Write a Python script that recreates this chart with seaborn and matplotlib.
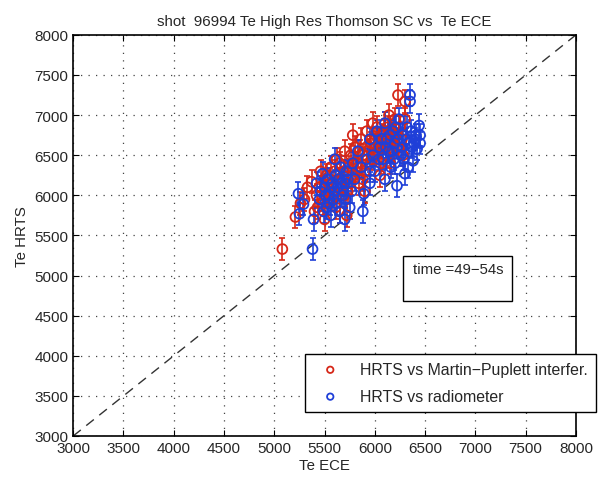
'''HRTS vs ECE electron temperature comparison'''

import matplotlib
matplotlib.use('Agg')
import matplotlib.pyplot as plt
from matplotlib.patches import Rectangle
import seaborn as sns

# Te ECE (x) and Te HRTS (y) for HRTS vs Martin-Puplett interferometer
mp_ece = [5080, 5210, 5260, 5300, 5370, 5400, 5420, 5450, 5480, 5500,
          5520, 5550, 5570, 5600, 5620, 5650, 5680, 5700, 5720, 5740,
          5760, 5780, 5800, 5820, 5840, 5860, 5880, 5900, 5920, 5950,
          5970, 6000, 6020, 6040, 6060, 6080, 6100, 6120, 6140, 6160,
          6180, 6200, 6230, 6250, 6270, 6300, 6300, 5560, 5330, 5650,
          5460, 5900, 6050, 5780, 6150, 5980, 5700, 6280,
          5430, 5530, 5580, 5610, 5660, 5690, 5730, 5760, 5790, 5810,
          5850, 5870, 5930, 5960, 5990, 6010, 6030, 6070, 6090, 6110,
          6130, 6170, 6190, 6210, 5880, 5620, 5520, 6240]
mp_hrts = [5330, 5730, 5900, 5950, 6170, 5800, 6000, 6100, 5900, 5700,
           6050, 6200, 5950, 6300, 6100, 6400, 6200, 6000, 5750, 6350,
           6500, 6250, 6600, 6400, 6150, 6700, 6500, 6300, 6800, 6600,
           6450, 6700, 6850, 6550, 6400, 6750, 6900, 6650, 7000, 6800,
           6550, 6950, 7250, 6850, 6700, 7170, 6950, 6350, 6100, 5800,
           6300, 6050, 6250, 6750, 6400, 6900, 6550, 6500,
           5850, 5900, 6050, 5850, 6100, 6300, 6050, 6150, 6400, 6300,
           6550, 6350, 6550, 6650, 6500, 6600, 6700, 6600, 6800, 6500,
           6850, 6700, 6850, 6750, 6200, 6450, 6250, 6600]

# Te ECE (x) and Te HRTS (y) for HRTS vs radiometer
rad_ece = [5240, 5250, 5290, 5380, 5390, 5420, 5480, 5450, 5500, 5520,
           5540, 5560, 5580, 5600, 5620, 5640, 5660, 5680, 5700, 5720,
           5750, 5780, 5800, 5830, 5860, 5880, 5890, 5920, 5950, 5980,
           6000, 6020, 6050, 6080, 6100, 6120, 6140, 6160, 6180, 6200,
           6220, 6240, 6260, 6280, 6300, 6320, 6340, 6350, 6350, 6360,
           6380, 6400, 6420, 6440, 6450, 6450, 6330, 6200, 6100, 5950,
           5700, 5600,
           5460, 5490, 5510, 5530, 5550, 5570, 5590, 5610, 5630, 5650,
           5670, 5690, 5710, 5730, 5770, 5950, 6040, 6060, 6110, 6150,
           6170, 6190, 6210, 6230, 6270, 6290, 6310, 6370, 6390, 6410]
rad_hrts = [6020, 5770, 5890, 5330, 5700, 6150, 6270, 5950, 6100, 5850,
            6000, 5750, 6150, 6050, 5900, 6200, 6350, 6000, 6150, 6300,
            5850, 6400, 6200, 6550, 6350, 5800, 6020, 6450, 6700, 6500,
            6300, 6800, 6600, 6450, 6900, 6700, 6550, 6350, 6800, 6650,
            6120, 6950, 6500, 6750, 6270, 6850, 6650, 7250, 7170, 6800,
            6430, 6700, 6580, 6870, 6750, 6650, 6350, 6400, 6200, 6150,
            5700, 6450,
            6050, 5800, 6000, 6200, 5900, 6100, 5950, 6250, 6100, 5800,
            6150, 6050, 5950, 6200, 6050, 6300, 6450, 6700, 6600, 6750,
            6550, 6450, 6850, 6700, 6600, 6450, 6700, 6600, 6650, 6750]

hrts_err = 140  # typical HRTS error bar half-width (eV)

sns.set_style('ticks')
plt.rcParams['font.family'] = ['Liberation Sans', 'DejaVu Sans']

fig = plt.figure(figsize=(6.05, 4.85), dpi=100)
ax = fig.add_axes([0.121, 0.099, 0.831, 0.827])

# diagonal y = x
ax.plot([3000, 8000], [3000, 8000], color='#333333', lw=1,
        ls=(0, (7, 5)), zorder=1)

series = [(mp_ece, mp_hrts, '#d62718', 'HRTS vs Martin\u2212Puplett interfer.'),
          (rad_ece, rad_hrts, '#1f3fd8', 'HRTS vs radiometer')]
for xs, ys, col, lab in series:
    ax.errorbar(xs, ys, yerr=hrts_err, fmt='none', ecolor=col,
                elinewidth=1.2, capsize=2, capthick=1.2, zorder=2)
    sns.scatterplot(x=xs, y=ys, ax=ax, marker='o', s=50, color=col,
                    facecolors='none', edgecolor=col, linewidth=1.3,
                    label=lab, zorder=3)

ax.set_xlim(3000, 8000)
ax.set_ylim(3000, 8000)
ax.set_xticks(range(3000, 8001, 500))
ax.set_yticks(range(3000, 8001, 500))
ax.grid(True, color='#444444', ls=(0, (1, 5)), lw=0.9)
ax.tick_params(direction='in', top=True, right=True, labelsize=11,
               length=4, color='black')
for sp in ax.spines.values():
    sp.set_color('black')
    sp.set_linewidth(1.2)

ax.set_xlabel('Te ECE', fontsize=10.8, labelpad=2)
ax.set_ylabel('Te HRTS', fontsize=10.8, labelpad=4)
ax.set_title('shot  96994 Te High Res Thomson SC vs  Te ECE',
             fontsize=10.8, pad=7)

# time window box
ax.add_patch(Rectangle((0.656, 0.337), 0.217, 0.112, transform=ax.transAxes,
                       fill=True, facecolor='white', edgecolor='black',
                       lw=1, zorder=4))
ax.text(0.676, 0.416, 'time =49\u221254s', transform=ax.transAxes,
        fontsize=10.7, va='center', ha='left', zorder=5)

leg = ax.legend(loc='upper left', bbox_to_anchor=(0.504, 0.268),
                bbox_transform=fig.transFigure, fontsize=11.4,
                fancybox=False, framealpha=1, edgecolor='black',
                borderpad=0.5, handletextpad=0.8, labelspacing=0.75,
                markerscale=0.65, handlelength=2.2, borderaxespad=0)
leg.get_frame().set_linewidth(1)

fig.savefig('out.png', dpi=100)
